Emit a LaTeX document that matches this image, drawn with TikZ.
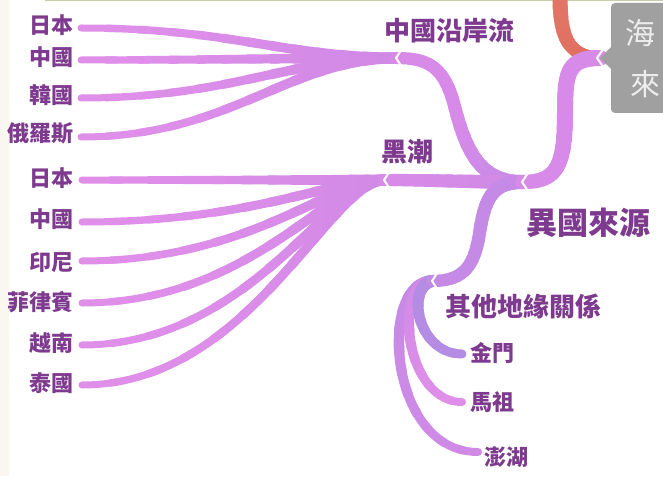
\documentclass[tikz,border=0pt]{standalone}
\usepackage{fontspec}
\newfontfamily\cjk{Noto Sans CJK TC}
\definecolor{txt}{HTML}{7E3A8E}
\definecolor{pkA}{HTML}{D08AE6}
\definecolor{pkB}{HTML}{E08FE9}
\definecolor{pkM}{HTML}{D88AE8}
\definecolor{vio}{HTML}{C48AE6}
\definecolor{jin}{HTML}{B48CE3}
\definecolor{redA}{HTML}{E27666}
\definecolor{redB}{HTML}{E06E60}
\definecolor{boxg}{HTML}{A0A0A0}
\definecolor{boxt}{HTML}{EDEDED}
\definecolor{topl}{HTML}{C9CCA6}
\definecolor{beige}{HTML}{FAF6F0}
% tapered branch: from, {c1x}{c1y}, {c2x}{c2y}, to, w0, w1, colour at root, colour at tip
\newcommand\taper[8]{%
  \foreach \k in {0,...,11}{%
    \pgfmathsetmacro\ta{\k/12}%
    \pgfmathsetmacro\tb{min(1,(\k+1.3)/12)}%
    \pgfmathsetmacro\wd{#5+(#6-#5)*\k/11}%
    \pgfmathtruncatemacro\pc{100-100*\k/11}%
    \begin{pgfscope}%
      \pgfsetlinewidth{\wd pt}\pgfsetroundcap
      \pgfsetstrokecolor{#7!\pc!#8}%
      \pgfpathcurvebetweentime{\ta}{\tb}{\pgfpointanchor{#1}{center}}{\pgfpointxy#2}{\pgfpointxy#3}{\pgfpointanchor{#4}{center}}%
      \pgfusepath{stroke}%
    \end{pgfscope}}}
\tikzset{
  leaflab/.style={font=\cjk\bfseries\fontsize{22}{22}\selectfont, text=txt, inner sep=0pt},
  leafl/.style={leaflab, anchor=east},
  leafr/.style={leaflab, anchor=center},
  midlab/.style={font=\cjk\bfseries\fontsize{26}{26}\selectfont, text=txt, inner sep=0pt},
  biglab/.style={font=\cjk\bfseries\fontsize{31}{31}\selectfont, text=txt, inner sep=0pt},
  boxlab/.style={font=\cjk\fontsize{30}{30}\selectfont, text=boxt, inner sep=0pt},
  notch/.style={draw=white, line width=2pt, line join=miter},
}
\begin{document}
\begin{tikzpicture}[x=1pt,y=-1pt]
\useasboundingbox (0,0) rectangle (663,476);
\fill[white] (0,0) rectangle (663,476);
\fill[beige] (0,0) rectangle (9,476);
\draw[topl, line width=3pt] (45,0) -- (663,0);

% junction points
\coordinate (gB) at (600,58);
\coordinate (rT) at (560,-4);
\coordinate (m1) at (565,112);
\coordinate (yg) at (522,182);
\coordinate (cc) at (396,58);
\coordinate (cw) at (455,108);
\coordinate (hc) at (384,180);
\coordinate (qt) at (432,281);
\coordinate (qw) at (480,230);

% leaf tips
\coordinate (a1) at (81,28);
\coordinate (a2) at (81,60);
\coordinate (a3) at (81,98);
\coordinate (a4) at (81,137);
\coordinate (b1) at (82,180);
\coordinate (b2) at (82,222);
\coordinate (b3) at (82,261);
\coordinate (b4) at (82,303);
\coordinate (b5) at (82,345);
\coordinate (b6) at (82,385);
\coordinate (c1) at (462,354);
\coordinate (c2) at (462,402);
\coordinate (c3) at (478,452);

% labels
\node[leafl] (la1) at (74,25) {日本};
\node[leafl] (la2) at (74,57) {中國};
\node[leafl] (la3) at (74,95) {韓國};
\node[leafl] (la4) at (74,133) {俄羅斯};
\node[leafl] (lb1) at (74,178) {日本};
\node[leafl] (lb2) at (74,219) {中國};
\node[leafl] (lb3) at (74,262) {印尼};
\node[leafl] (lb4) at (74,302) {菲律賓};
\node[leafl] (lb5) at (74,343) {越南};
\node[leafl] (lb6) at (74,383) {泰國};
\node[leafr] (lc1) at (492,353) {金門};
\node[leafr] (lc2) at (492,402) {馬祖};
\node[leafr] (lc3) at (506,457) {澎湖};
\node[midlab] (ncc) at (449,31) {中國沿岸流};
\node[midlab] (nhc) at (407,152) {黑潮};
\node[midlab] (nqt) at (523,306) {其他地緣關係};
\node[biglab] (nyg) at (588,223) {異國來源};

% leaves of 中國沿岸流
\taper{cc}{{290}{58}}{{230}{28}}{a1}{11}{7}{pkA}{pkB}
\taper{cc}{{290}{58}}{{230}{60}}{a2}{11}{7}{pkA}{pkB}
\taper{cc}{{290}{58}}{{230}{98}}{a3}{11}{7}{pkA}{pkB}
\taper{cc}{{290}{58}}{{230}{137}}{a4}{11}{7}{pkA}{pkB}
% leaves of 黑潮
\taper{hc}{{330}{180}}{{250}{385}}{b6}{11}{7}{pkA}{pkB}
\taper{hc}{{330}{180}}{{250}{345}}{b5}{11}{7}{pkA}{pkB}
\taper{hc}{{330}{180}}{{250}{303}}{b4}{11}{7}{pkA}{pkB}
\taper{hc}{{330}{180}}{{250}{261}}{b3}{11}{7}{pkA}{pkB}
\taper{hc}{{330}{180}}{{250}{222}}{b2}{11}{7}{pkA}{pkB}
\taper{hc}{{330}{180}}{{250}{180}}{b1}{11}{7}{pkA}{pkB}
% leaves of 其他地緣關係
\taper{qt}{{378}{284}}{{388}{452}}{c3}{12}{8}{vio}{pkA}
\taper{qt}{{392}{284}}{{405}{402}}{c2}{12}{8}{pkA}{pkB}
\taper{qt}{{405}{288}}{{418}{354}}{c1}{12}{9}{jin}{jin}

% branches of 異國來源
\taper{yg}{{480}{182}}{{466}{150}}{cw}{14}{13}{vio}{pkM}
\taper{cw}{{445}{68}}{{430}{58}}{cc}{13}{12}{pkM}{pkM}
\taper{yg}{{470}{182}}{{430}{180}}{hc}{14}{12}{pkA}{pkM}
\taper{yg}{{492}{182}}{{485}{200}}{qw}{14}{13}{vio}{vio}
\taper{qw}{{475}{265}}{{465}{281}}{qt}{13}{12}{vio}{vio}

% red branch and main branch
\taper{rT}{{560}{38}}{{568}{56}}{gB}{15}{12}{redA}{redB}
\taper{gB}{{568}{58}}{{565}{72}}{m1}{16}{16}{pkM}{pkM}
\taper{m1}{{565}{168}}{{556}{182}}{yg}{16}{14}{pkM}{pkM}

% grey box
\fill[boxg, rounded corners=4pt] (611,3) rectangle (680,113);
\fill[boxg] (612,46) -- (600,58) -- (612,70) -- cycle;
\node[boxlab] (box1) at (640,33) {海};
\node[boxlab] (box2) at (645,84) {來};

% notches
\draw[notch] (gB) ++(-3,0) ++(7,-10) -- ++(-7,10) -- ++(7,10);
\draw[notch] (yg) ++(6,-9) -- (yg) -- ++(6,9);
\draw[notch] (cc) ++(6,-9) -- (cc) -- ++(6,9);
\draw[notch] (hc) ++(6,-9) -- (hc) -- ++(6,9);
\draw[notch] (qt) ++(6,-9) -- (qt) -- ++(6,9);
\end{tikzpicture}
\end{document}
